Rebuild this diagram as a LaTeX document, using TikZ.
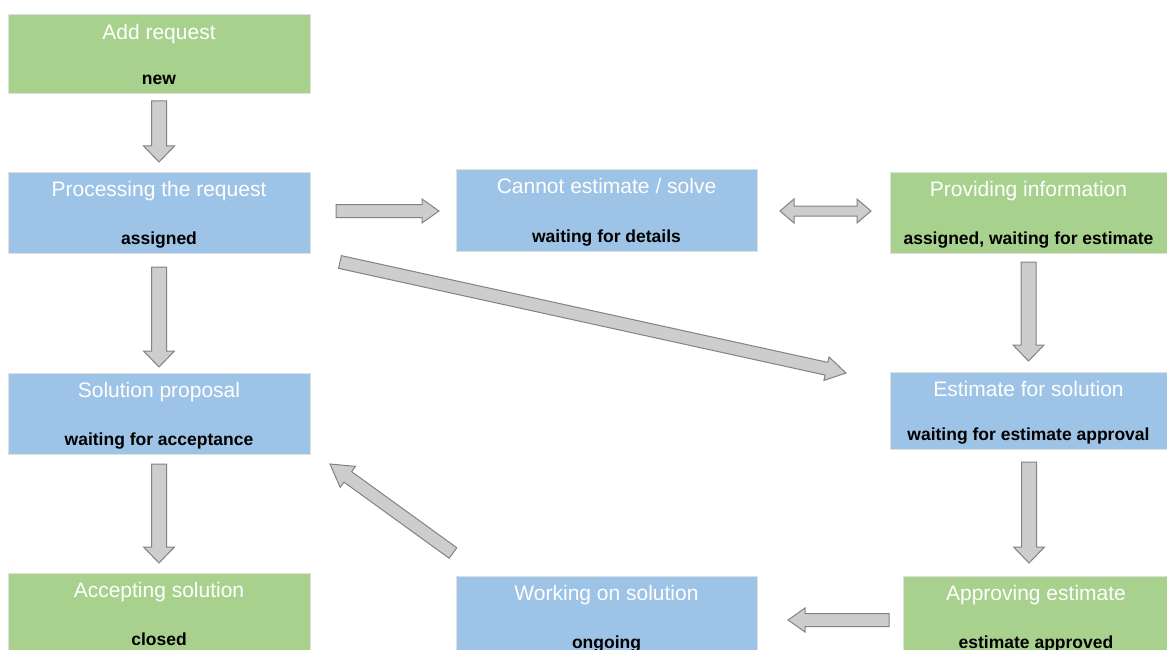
\documentclass[tikz,border=0pt]{standalone}
\usepackage{fontspec}
\setmainfont{Liberation Sans}
\usetikzlibrary{calc}
\definecolor{boxgreen}{HTML}{A9D18E}
\definecolor{boxblue}{HTML}{9DC3E6}
\definecolor{arrfill}{HTML}{CDCDCD}
\definecolor{arrline}{HTML}{828282}
\tikzset{
 stbox/.style={rectangle, draw=black!12, line width=0.8pt, inner sep=0pt, outer sep=0pt, anchor=north west},
 gbox/.style={stbox, fill=boxgreen},
 bbox/.style={stbox, fill=boxblue},
 ttl/.style={anchor=base, text=white, font=\fontsize{21}{21}\selectfont, inner sep=0pt},
 subtxt/.style={anchor=base, text=black, font=\fontsize{17.5}{17.5}\selectfont\bfseries, inner sep=0pt},
 barrow/.style={fill=arrfill, draw=arrline, line width=1pt, line join=miter},
}
\newcommand{\barr}[5]{%
 \coordinate (ba-s) at (#1);
 \coordinate (ba-e) at (#2);
 \coordinate (ba-c) at ($(ba-e)!#5!(ba-s)$);
 \draw[barrow] ($(ba-s)!#3!90:(ba-e)$) -- ($(ba-c)!#3!90:(ba-e)$) -- ($(ba-c)!#4!90:(ba-e)$) -- (ba-e) -- ($(ba-c)!#4!-90:(ba-e)$) -- ($(ba-c)!#3!-90:(ba-e)$) -- ($(ba-s)!#3!-90:(ba-e)$) -- cycle;}
\newcommand{\bdarr}[5]{%
 \coordinate (ba-s) at (#1);
 \coordinate (ba-e) at (#2);
 \coordinate (ba-c1) at ($(ba-s)!#5!(ba-e)$);
 \coordinate (ba-c2) at ($(ba-e)!#5!(ba-s)$);
 \draw[barrow] (ba-s) -- ($(ba-c1)!#4!90:(ba-e)$) -- ($(ba-c1)!#3!90:(ba-e)$) -- ($(ba-c2)!#3!90:(ba-e)$) -- ($(ba-c2)!#4!90:(ba-e)$) -- (ba-e) -- ($(ba-c2)!#4!-90:(ba-e)$) -- ($(ba-c2)!#3!-90:(ba-e)$) -- ($(ba-c1)!#3!-90:(ba-e)$) -- ($(ba-c1)!#4!-90:(ba-e)$) -- cycle;}
\begin{document}
\begin{tikzpicture}[x=1pt,y=-1pt]
\useasboundingbox (0,0) rectangle (1167,650);
\clip (0,0) rectangle (1167,650);
% boxes
\node[gbox, minimum width=302pt, minimum height=79pt] (add) at (8,14) {};
\node[ttl] (add-t) at ($(add.north)+(0,25.5)$) {Add request};
\node[subtxt] (add-s) at ($(add.south)+(0,-8)$) {new};

\node[bbox, minimum width=302pt, minimum height=81pt] (proc) at (8,172) {};
\node[ttl] (proc-t) at ($(proc.north)+(0,24.5)$) {Processing the request};
\node[subtxt] (proc-s) at ($(proc.south)+(0,-9)$) {assigned};

\node[bbox, minimum width=301pt, minimum height=82pt] (cannot) at (456,169) {};
\node[ttl] (cannot-t) at ($(cannot.north)+(0,24.5)$) {Cannot estimate / solve};
\node[subtxt] (cannot-s) at ($(cannot.south)+(0,-9)$) {waiting for details};

\node[gbox, minimum width=277pt, minimum height=81pt] (prov) at (890,172) {};
\node[ttl] (prov-t) at ($(prov.north)+(0,24.5)$) {Providing information};
\node[subtxt] (prov-s) at ($(prov.south)+(0,-9)$) {assigned, waiting for estimate};

\node[bbox, minimum width=302pt, minimum height=81pt] (sol) at (8,373) {};
\node[ttl] (sol-t) at ($(sol.north)+(0,24.5)$) {Solution proposal};
\node[subtxt] (sol-s) at ($(sol.south)+(0,-9)$) {waiting for acceptance};

\node[bbox, minimum width=277pt, minimum height=77pt] (est) at (890,372) {};
\node[ttl] (est-t) at ($(est.north)+(0,24)$) {Estimate for solution};
\node[subtxt] (est-s) at ($(est.south)+(0,-9)$) {waiting for estimate approval};

\node[gbox, minimum width=302pt, minimum height=82pt] (acc) at (8,573) {};
\node[ttl] (acc-t) at ($(acc.north)+(0,24.5)$) {Accepting solution};
\node[subtxt] (acc-s) at ($(acc.north)+(0,72)$) {closed};

\node[bbox, minimum width=301pt, minimum height=82pt] (work) at (456,576) {};
\node[ttl] (work-t) at ($(work.north)+(0,24.5)$) {Working on solution};
\node[subtxt] (work-s) at ($(work.north)+(0,72)$) {ongoing};

\node[gbox, minimum width=266pt, minimum height=82pt] (appr) at (903,576) {};
\node[ttl] (appr-t) at ($(appr.north)+(0,24.5)$) {Approving estimate};
\node[subtxt] (appr-s) at ($(appr.north)+(0,72)$) {estimate approved};

% arrows
\barr{$(add.south)+(0,8)$}{$(proc.north)+(0,-10)$}{7.5pt}{15.5pt}{16pt}
\barr{$(proc.south)+(0,14)$}{$(sol.north)+(0,-6)$}{7.5pt}{15.5pt}{16pt}
\barr{$(sol.south)+(0,10)$}{$(acc.north)+(0,-10)$}{7.5pt}{15.5pt}{16pt}
\barr{$(proc.east)+(26,-1.5)$}{$(cannot.west)+(-17,1)$}{6.5pt}{12pt}{17pt}
\bdarr{$(cannot.east)+(23,1)$}{$(prov.west)+(-19,-1.5)$}{5pt}{12pt}{14pt}
\barr{$(prov.south)+(0,9)$}{$(est.north)+(0,-11)$}{7.5pt}{15.5pt}{16pt}
\barr{$(est.south)+(0.5,13)$}{$(appr.north)+(-7,-13)$}{7.5pt}{15.5pt}{16pt}
\barr{$(appr.west)+(-14,3)$}{$(work.east)+(31,3)$}{6.5pt}{12pt}{17pt}
\barr{$(work.north west)+(-3,-23)$}{$(sol.south east)+(20,10)$}{6.5pt}{13pt}{22pt}
\barr{$(proc.south east)+(30,9)$}{$(est.north west)+(-44,1)$}{6.5pt}{12pt}{20pt}
\end{tikzpicture}
\end{document}
